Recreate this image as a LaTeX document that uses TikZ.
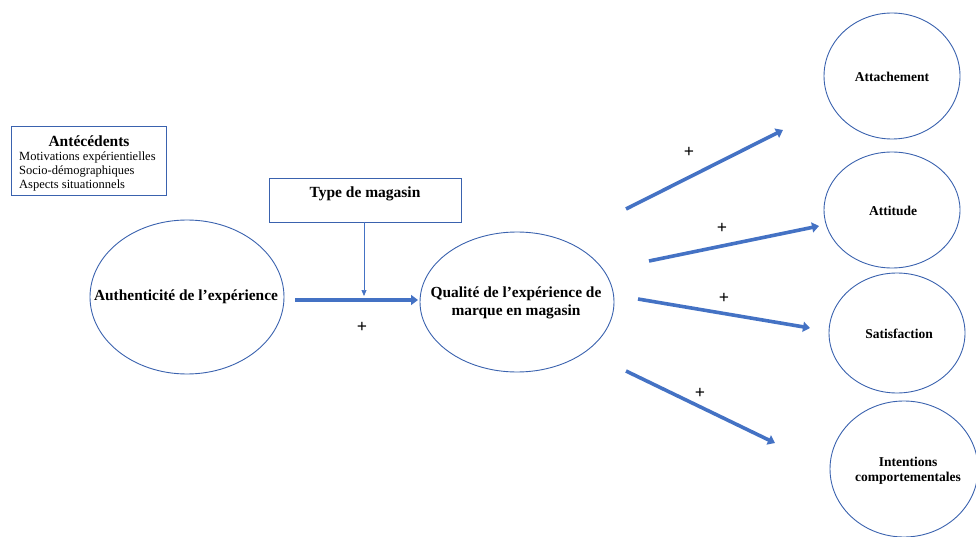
\documentclass[tikz,border=0pt]{standalone}
\usepackage{fontspec}
\setmainfont{Liberation Serif}
\usetikzlibrary{arrows.meta}
\definecolor{ob}{HTML}{4472C4}
\definecolor{obd}{HTML}{3A62AE}
\begin{document}
\begin{tikzpicture}[x=1pt,y=-1pt,
  ovline/.style={draw=obd,line width=0.9pt},
  ovtext/.style={font=\bfseries\fontsize{13.5}{15}\selectfont,align=center},
  bigtext/.style={font=\bfseries\fontsize{15.4}{18}\selectfont,align=center},
  box/.style={draw=obd,line width=0.9pt,rectangle},
  thick arr/.style={draw=ob,line width=3.6pt,-{Triangle[length=7pt,width=10pt]}},
  thin arr/.style={draw=ob,line width=0.7pt,-{Triangle[length=6pt,width=5pt]}},
  plus/.style={font=\bfseries\fontsize{18}{18}\selectfont}]
\useasboundingbox (0,0) rectangle (976,537);
% ellipses
\draw[ovline] (187,297) ellipse [x radius=97,y radius=77];
\node[bigtext] (auth) at (186,297) {Authenticité de l’expérience};
\coordinate (authE) at (295,300);
\draw[ovline] (517,302) ellipse [x radius=97,y radius=70];
\node[bigtext] (qual) at (516,303) {Qualité de l’expérience de\\marque en magasin};
\coordinate (qualW) at (418,300);
\draw[ovline] (892,76) ellipse [x radius=68,y radius=63];
\node[ovtext] (att) at (892,77) {Attachement};
\draw[ovline] (892,210) ellipse [x radius=68,y radius=58];
\node[ovtext] (atti) at (893,211) {Attitude};
\draw[ovline] (897,333) ellipse [x radius=68,y radius=60];
\node[ovtext] (sat) at (899,334) {Satisfaction};
\draw[ovline] (904,469) ellipse [x radius=74,y radius=68];
\node[ovtext] (int) at (908,471) {Intentions\\comportementales};
% boxes
\node[box,minimum width=155pt,minimum height=69pt] (ante) at (88.5,160.5) {};
\node[font=\bfseries\fontsize{15.5}{15}\selectfont] (anteT) at (89,141) {Antécédents};
\node[anchor=north west,align=left,font=\fontsize{12.5}{14}\selectfont,inner sep=0pt] (anteL) at (19,152) {Motivations expérientielles\\Socio-démographiques\\Aspects situationnels};
\node[box,minimum width=192pt,minimum height=44pt] (type) at (365,200) {};
\node[font=\bfseries\fontsize{15.5}{15}\selectfont] (typeT) at (365,194) {Type de magasin};
\coordinate (mod) at (364,296);
\draw[thin arr] (type.south -| mod) -- (mod);
\draw[thick arr] (authE) -- (qualW);
\node[plus] (p0) at (362,327) {+};
% right arrows
\coordinate (s1) at (626,209); \coordinate (e1) at (783,130);
\coordinate (s2) at (649,261); \coordinate (e2) at (819,226);
\coordinate (s3) at (638,299); \coordinate (e3) at (810,328);
\coordinate (s4) at (626,371); \coordinate (e4) at (775,443);
\draw[thick arr] (s1) -- (e1);
\draw[thick arr] (s2) -- (e2);
\draw[thick arr] (s3) -- (e3);
\draw[thick arr] (s4) -- (e4);
\node[plus] (p1) at (689,152) {+};
\node[plus] (p2) at (722,228) {+};
\node[plus] (p3) at (724,298) {+};
\node[plus] (p4) at (700,393) {+};
\end{tikzpicture}
\end{document}
